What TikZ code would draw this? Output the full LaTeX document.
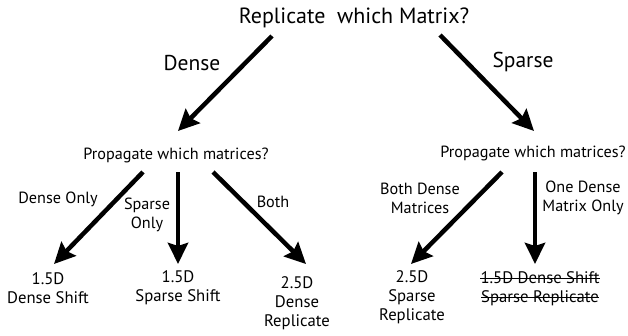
\documentclass[tikz,border=0pt]{standalone}
\usepackage{fontspec}
\setmainfont{PT Sans}
\usetikzlibrary{arrows.meta}
\begin{document}
\begin{tikzpicture}[x=1pt,y=-1pt,
  big/.style={line width=4.5pt,-{Stealth[length=21pt,width=20pt,inset=3pt]}},
  lbl/.style={inner sep=0pt,align=center,font=\fontsize{16.2}{19}\selectfont},
  leaf/.style={inner sep=0pt,align=center,font=\fontsize{16.7}{19}\selectfont},
  head/.style={inner sep=0pt,align=center,font=\fontsize{21.5}{24}\selectfont},
  strike/.style={line width=0.8pt}]
\useasboundingbox (0,0) rectangle (628,335);
% top
\node[inner sep=0pt,anchor=base,font=\fontsize{22}{26}\selectfont] (title) at (354,23) {Replicate\ \ which Matrix?};
\node[head,anchor=base] (dense) at (192,70) {Dense};
\node[head,anchor=base] (sparse) at (523,67) {Sparse};
\node[lbl] (propL) at (176,155) {Propagate which matrices?};
\node[lbl] (propR) at (533,153) {Propagate which matrices?};
\coordinate (a1s) at (272,36); \coordinate (a1e) at (178,131);
\coordinate (a2s) at (440,35); \coordinate (a2e) at (534,131);
\draw[big] (a1s) -- (a1e);
\draw[big] (a2s) -- (a2e);
% left branch
\node[lbl] (lDO) at (58,199) {Dense Only};
\node[lbl] (lSO) at (147,215) {Sparse\\Only};
\node[lbl] (lB) at (273,202) {Both};
\coordinate (b1s) at (143,172); \coordinate (b1e) at (54,264);
\coordinate (b2s) at (178,172); \coordinate (b2e) at (178,264);
\coordinate (b3s) at (213,172); \coordinate (b3e) at (306,264);
\draw[big] (b1s) -- (b1e);
\draw[big] (b2s) -- (b2e);
\draw[big] (b3s) -- (b3e);
\node[leaf] (r1) at (48,288) {1.5D\\Dense Shift};
\node[leaf] (r2) at (178,288) {1.5D\\Sparse Shift};
\node[leaf] (r3) at (297,303) {2.5D\\Dense\\Replicate};
% right branch
\node[lbl] (lBD) at (420,198) {Both Dense\\Matrices};
\node[lbl] (lOD) at (583,198) {One Dense\\Matrix Only};
\coordinate (c1s) at (502,172); \coordinate (c1e) at (411,264);
\coordinate (c2s) at (535,172); \coordinate (c2e) at (535,264);
\draw[big] (c1s) -- (c1e);
\draw[big] (c2s) -- (c2e);
\node[leaf] (r4) at (412,297) {2.5D\\Sparse\\Replicate};
\node[leaf,anchor=base] (r5a) at (540,283) {1.5D Dense Shift};
\node[leaf,anchor=base] (r5b) at (540,302) {Sparse Replicate};
\draw[strike] ([yshift=4.5pt]r5a.base west) -- ([yshift=4.5pt]r5a.base east);
\draw[strike] ([yshift=4.5pt]r5b.base west) -- ([yshift=4.5pt]r5b.base east);
\end{tikzpicture}
\end{document}
